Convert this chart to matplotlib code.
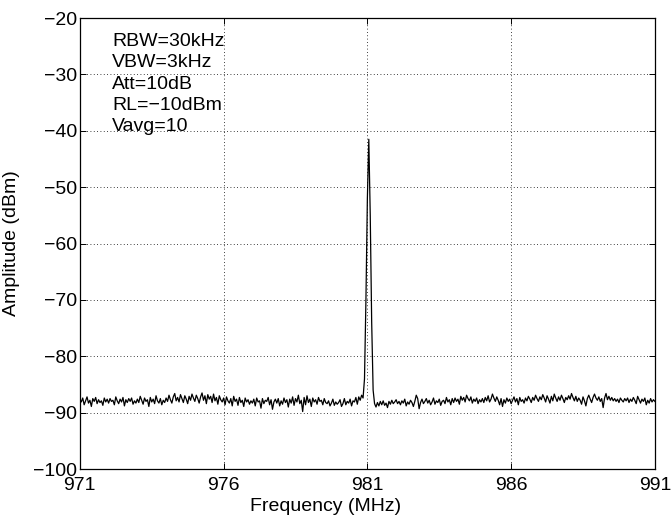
import numpy as np
import matplotlib.pyplot as plt

plt.rcParams['font.family'] = ['Liberation Sans', 'DejaVu Sans']

# frequency axis of the analyzer sweep (MHz), 401 points
f_start, f_stop = 971.0, 991.0
freq = np.linspace(f_start, f_stop, 401)

amp = [
    -87.6, -88.1, -87.4, -88.6, -87.9, -87.2, -88.3, -87.8, -88.9, -87.5, -88.0, -87.3, -88.4, -87.7, -88.2, -87.9, -88.7, -87.4, -88.1, -87.6,
    -88.3, -87.5, -88.0, -87.8, -88.6, -87.2, -87.9, -88.4, -87.6, -88.1, -87.3, -88.8, -87.7, -88.2, -87.5, -88.0, -87.4, -88.5, -87.9, -88.3,
    -87.6, -88.2, -87.1, -87.8, -88.5, -87.4, -88.0, -87.7, -88.9, -87.3, -88.1, -87.6, -88.4, -87.0, -87.9, -88.3, -87.5, -88.6, -87.8, -88.2,
    -87.4, -88.0, -86.9, -87.7, -88.3, -87.2, -86.6, -87.9, -87.3, -88.1, -86.8, -87.5, -88.2, -87.0, -87.6, -88.4, -87.1, -87.8, -86.7, -87.4,
    -88.0, -86.9, -87.5, -88.3, -87.2, -86.5, -87.8, -87.0, -88.4, -86.8, -87.6, -87.1, -88.2, -86.7, -87.9, -87.3, -88.5, -87.0, -87.7, -88.1,
    -87.4, -88.6, -87.2, -87.9, -88.3, -87.5, -88.8, -87.1, -88.0, -87.6, -88.7, -87.3, -88.2, -87.8, -88.9, -87.4, -88.1, -87.7, -88.5, -87.9,
    -88.3, -87.6, -88.8, -87.4, -88.1, -87.9, -89.2, -87.5, -88.4, -87.8, -88.0, -87.3, -88.6, -87.7, -89.4, -88.1, -87.6, -88.3, -87.5, -88.8,
    -87.9, -88.5, -87.4, -88.2, -87.7, -89.0, -87.6, -88.3, -87.2, -88.7, -87.5, -88.1, -86.9, -88.4, -87.8, -89.8, -87.3, -88.6, -87.0, -88.2,
    -87.6, -88.9, -87.4, -88.1, -87.7, -88.5, -87.3, -88.0, -87.8, -88.6, -87.5, -88.2, -88.4, -87.9, -88.8, -88.3, -87.6, -88.7, -88.1, -88.5,
    -88.2, -87.7, -88.9, -88.4, -87.5, -88.6, -88.0, -88.3, -87.6, -88.8, -87.9, -88.1, -87.3, -88.5, -87.2, -87.8, -86.9, -87.4, -84.0, -70.0,
    -52.0, -41.5, -55.0, -74.0, -86.0, -88.4, -89.0, -88.2, -88.8, -88.0, -88.6, -87.9, -88.7, -88.3, -89.1, -88.0, -88.5, -87.8, -88.4, -88.1,
    -87.7, -88.4, -88.0, -88.6, -87.9, -88.3, -87.6, -88.8, -88.1, -88.5, -87.8, -88.2, -88.9, -88.0, -86.9, -87.5, -89.3, -88.2, -87.6, -88.4,
    -88.0, -87.5, -88.3, -87.8, -88.6, -88.1, -87.4, -88.5, -87.9, -88.2, -87.6, -88.7, -88.0, -87.8, -88.4, -87.3, -88.1, -87.7, -88.6, -87.5,
    -88.2, -87.4, -88.0, -87.6, -88.5, -87.1, -87.8, -87.3, -88.1, -86.9, -87.5, -87.9, -87.2, -88.3, -87.6, -88.0, -87.4, -88.4, -87.7, -88.1,
    -87.5, -88.2, -87.3, -87.9, -87.0, -88.1, -87.6, -86.7, -87.4, -88.0, -87.2, -87.8, -88.6, -87.5, -88.9, -87.7, -88.3, -87.4, -88.0, -87.6,
    -88.4, -87.8, -87.2, -88.1, -87.5, -88.6, -87.3, -88.0, -87.7, -88.3, -87.4, -87.9, -87.1, -87.6, -88.2, -87.3, -87.8, -86.9, -87.5, -88.0,
    -87.2, -87.7, -86.8, -87.4, -88.1, -87.0, -87.6, -88.3, -87.1, -87.9, -86.7, -87.4, -88.0, -87.2, -87.8, -86.9, -87.5, -88.2, -87.3, -87.7,
    -87.0, -87.6, -86.6, -87.3, -87.9, -87.1, -88.0, -87.4, -87.8, -88.5, -87.2, -87.9, -88.8, -87.5, -86.9, -87.6, -88.2, -87.3, -86.7, -87.4,
    -87.8, -87.2, -88.0, -87.5, -89.1, -87.4, -86.6, -87.7, -87.1, -87.8, -87.3, -87.9, -87.5, -88.0, -87.6, -88.2, -87.4, -87.8, -88.1, -87.5,
    -87.9, -87.4, -88.2, -87.6, -88.0, -87.3, -87.8, -88.4, -87.1, -87.7, -88.3, -87.6, -88.0, -87.4, -88.6, -87.8, -88.3, -87.5, -88.1, -87.7,
    -88.0,
]

settings = ['RBW=30kHz', 'VBW=3kHz', 'Att=10dB', 'RL=\u221210dBm', 'Vavg=10']
xticks = [971, 976, 981, 986, 991]
yticks = list(range(-100, -10, 10))

fig = plt.figure(figsize=(6.71, 5.16), dpi=100)
ax = fig.add_axes([0.119, 0.091, 0.857, 0.874])
ax.plot(freq, amp, color='black', linewidth=0.9)

ax.set_xlim(f_start, f_stop)
ax.set_ylim(-100, -20)
ax.set_xticks(xticks)
ax.set_yticks(yticks)
ax.tick_params(direction='in', labelsize=14, length=4, top=True, right=True, width=0.7)
ax.tick_params(axis='y', pad=2)
ax.tick_params(axis='x', pad=6)
ax.grid(True, linestyle=(0, (1, 3)), color='black', linewidth=0.6)
for s in ax.spines.values():
    s.set_linewidth(0.9)

ax.set_xlabel('Frequency (MHz)', fontsize=14)
ax.set_ylabel('Amplitude (dBm)', fontsize=14)
ax.xaxis.set_label_coords(0.428, -0.065)
ax.yaxis.set_label_coords(-0.104, 0.5)

ax.text(0.056, 0.967, '\n'.join(settings), transform=ax.transAxes,
        va='top', ha='left', fontsize=14, linespacing=1.33)

fig.savefig('out.png', dpi=100)
